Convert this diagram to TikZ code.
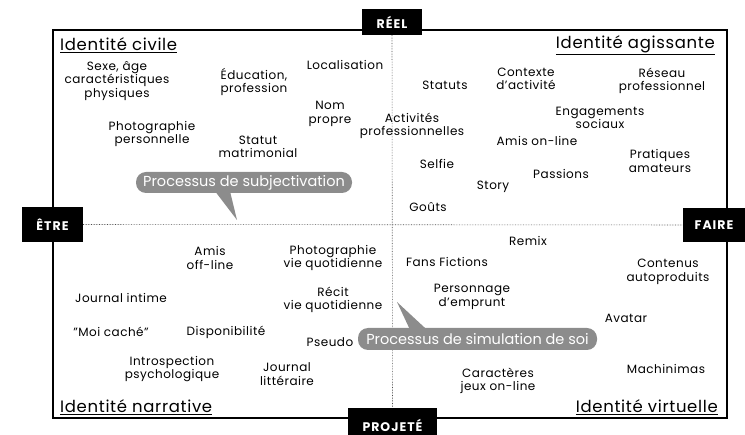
\documentclass[tikz,border=0pt]{standalone}
\usepackage{fontspec}
\setmainfont{Poppins}[LetterSpace=4]
\newfontfamily\bubblefont{Poppins}
\newfontfamily\boxfont{Poppins}[LetterSpace=8]
\definecolor{bubblegray}{HTML}{8C8C8C}

\begin{document}
\begin{tikzpicture}[x=1pt,y=-1pt,
  item/.style={align=center,inner sep=0pt,font=\fontsize{12}{13.5}\selectfont},
  heading/.style={inner sep=0pt,font=\fontsize{16.5}{18}\selectfont},
  axisbox/.style={fill=black,text=white,inner sep=0pt,font=\boxfont\bfseries\fontsize{12.5}{13}\selectfont},
  bubble/.style={fill=bubblegray,text=white,rounded corners=10pt,inner sep=0pt,font=\bubblefont\fontsize{14.5}{15}\selectfont},
  axisline/.style={densely dotted,line width=0.6pt,black!70}]
\useasboundingbox (0,0) rectangle (745,435);
\draw [line width=1.3pt] (53,30) rectangle (727,418);
\node [axisbox,minimum width=60pt,minimum height=26pt] (reel) at (392,22) {RÉEL};
\node [axisbox,minimum width=61pt,minimum height=35pt] (etre) at (52.5,224.5) {ÊTRE};
\node [axisbox,minimum width=62pt,minimum height=34pt] (faire) at (714,225) {FAIRE};
\node [axisbox,minimum width=89pt,minimum height=34pt] (projete) at (392.5,425) {PROJETÉ};
\draw [axisline] (reel) -- (projete);
\draw [axisline] (etre) -- (faire);
\node [heading,anchor=west] (civile) at (60,45) {\underline{Identité civile}};
\node [heading,anchor=east] (agissante) at (715,45) {\underline{Identité agissante}};
\node [heading,anchor=west] (narrative) at (60,407) {\underline{Identité narrative}};
\node [heading,anchor=east] (virtuelle) at (718,407) {\underline{Identité virtuelle}};
\node [item] (sexe) at (117,81) {Sexe, âge\\caractéristiques\\physiques};
\node [item] (education) at (254,82) {Éducation,\\profession};
\node [item] (localisation) at (345,65) {Localisation};
\node [item] (nom) at (330,114) {Nom\\propre};
\node [item] (photoperso) at (152,134) {Photographie\\personnelle};
\node [item] (statut) at (258,147) {Statut\\matrimonial};
\node [item] (statuts) at (445,85) {Statuts};
\node [item] (contexte) at (526,79) {Contexte\\d’activité};
\node [item] (reseau) at (662,81) {Réseau\\professionnel};
\node [item] (engagements) at (600,118) {Engagements\\sociaux};
\node [item] (activites) at (412,126) {Activités\\professionnelles};
\node [item] (amison) at (537,141) {Amis on-line};
\node [item] (pratiques) at (660,161) {Pratiques\\amateurs};
\node [item] (selfie) at (437,164) {Selfie};
\node [item] (passions) at (561,174) {Passions};
\node [item] (story) at (493,187) {Story};
\node [item] (gouts) at (428,207) {Goûts};
\node [item] (amisoff) at (210,258) {Amis\\off-line};
\node [item] (photovie) at (333,258) {Photographie\\vie quotidienne};
\node [item] (intime) at (121,298) {Journal intime};
\node [item] (recit) at (333,300) {Récit\\vie quotidienne};
\node [item] (moicache) at (111,332) {"Moi caché"};
\node [item] (dispo) at (226,332) {Disponibilité};
\node [item] (pseudo) at (330,342) {Pseudo};
\node [item] (introspection) at (172,369) {Introspection\\psychologique};
\node [item] (litteraire) at (287,374) {Journal\\littéraire};
\node [item] (remix) at (528,241) {Remix};
\node [item] (fans) at (447,262) {Fans Fictions};
\node [item] (contenus) at (668,272) {Contenus\\autoproduits};
\node [item] (personnage) at (472,297) {Personnage\\d’emprunt};
\node [item] (avatar) at (626,318) {Avatar};
\node [item] (machinimas) at (666,369) {Machinimas};
\node [item] (caracteres) at (498,381) {Caractères\\jeux on-line};
\node [bubble,minimum width=216pt,minimum height=21pt] (subj) at (244,182.5) {Processus de subjectivation};
\node [bubble,minimum width=239pt,minimum height=22pt] (simu) at (477.5,339) {Processus de simulation de soi};
\coordinate (subjtip) at (237,220);
\coordinate (simutip) at (397,302);
\fill [bubblegray] ([xshift=-29pt,yshift=2pt]subj.south) -- (subjtip) -- ([xshift=-14pt,yshift=2pt]subj.south) -- cycle;
\fill [bubblegray] ([xshift=-67.5pt,yshift=-2pt]simu.north) -- (simutip) -- ([xshift=-50.5pt,yshift=-2pt]simu.north) -- cycle;
\end{tikzpicture}
\end{document}
